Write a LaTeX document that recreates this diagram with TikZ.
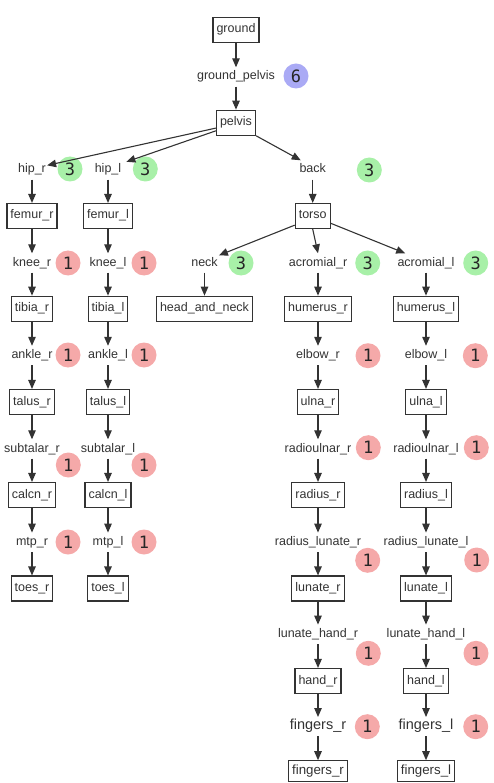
\documentclass[tikz,border=0pt]{standalone}
\usepackage{fontspec}
\setmainfont{Liberation Sans}
\newfontfamily\badgefont{DejaVu Sans Mono}
\usetikzlibrary{arrows.meta}
\definecolor{ink}{HTML}{333333}
\definecolor{badgegreen}{HTML}{A8F0A8}
\definecolor{badgered}{HTML}{F5A9A9}
\definecolor{badgeblue}{HTML}{AAAAF5}
\tikzset{
  body/.style={draw=ink, line width=1.1pt, inner xsep=3.5pt, inner ysep=0pt,
    minimum height=25pt, text height=9pt, text depth=3pt,
    font=\fontsize{12.5}{15}\selectfont, text=ink},
  joint/.style={inner xsep=1pt, inner ysep=3.5pt, text height=9pt, text depth=3pt,
    font=\fontsize{12.5}{15}\selectfont, text=ink},
  badge/.style={circle, inner sep=0pt, minimum size=25pt,
    font=\badgefont\fontsize{17}{17}\selectfont, text=black!85},
  dof1/.style={badge, fill=badgered},
  dof3/.style={badge, fill=badgegreen},
  dof6/.style={badge, fill=badgeblue},
  link/.style={draw=ink, line width=1.1pt, -{Triangle[length=9pt,width=7.5pt]}}
}
\begin{document}
\begin{tikzpicture}[x=1pt, y=-1pt]
\useasboundingbox (0,0) rectangle (493,783);

% trunk
\node[body]  (ground)  at (236,30)    {ground};
\node[joint] (gp)      at (236,77)    {ground\_pelvis};
\node[body]  (pelvis)  at (236,122.7) {pelvis};

% right leg
\node[joint] (hipr)    at (32,170)   {hip\_r};
\node[body]  (femurr)  at (32,216)   {femur\_r};
\node[joint] (kneer)   at (32,263)   {knee\_r};
\node[body]  (tibiar)  at (32,308.7) {tibia\_r};
\node[joint] (ankler)  at (32,355.5) {ankle\_r};
\node[body]  (talusr)  at (32,402)   {talus\_r};
\node[joint] (subr)    at (32,449)   {subtalar\_r};
\node[body]  (calcnr)  at (32,495)   {calcn\_r};
\node[joint] (mtpr)    at (32,542.3) {mtp\_r};
\node[body]  (toesr)   at (32,588.5) {toes\_r};

% left leg
\node[joint] (hipl)    at (108,170)   {hip\_l};
\node[body]  (femurl)  at (108,216)   {femur\_l};
\node[joint] (kneel)   at (108,263)   {knee\_l};
\node[body]  (tibial)  at (108,308.7) {tibia\_l};
\node[joint] (anklel)  at (108,355.5) {ankle\_l};
\node[body]  (talusl)  at (108,402)   {talus\_l};
\node[joint] (subl)    at (108,449)   {subtalar\_l};
\node[body]  (calcnl)  at (108,495)   {calcn\_l};
\node[joint] (mtpl)    at (108,542.3) {mtp\_l};
\node[body]  (toesl)   at (108,588.5) {toes\_l};

% spine and head
\node[joint] (back)    at (312.7,170) {back};
\node[body]  (torso)   at (312.7,216) {torso};
\node[joint] (neck)    at (204.5,263) {neck};
\node[body]  (head)    at (204.5,308.7) {head\_and\_neck};

% right arm
\node[joint] (acrr)    at (318,263)   {acromial\_r};
\node[body]  (humr)    at (318,308.7) {humerus\_r};
\node[joint] (elbr)    at (318,355.5) {elbow\_r};
\node[body]  (ulnar)   at (318,402)   {ulna\_r};
\node[joint] (rur)     at (318,449)   {radioulnar\_r};
\node[body]  (radr)    at (318,495)   {radius\_r};
\node[joint] (rlr)     at (318,542.3) {radius\_lunate\_r};
\node[body]  (lunr)    at (318,588.5) {lunate\_r};
\node[joint] (lhr)     at (318,634.3) {lunate\_hand\_r};
\node[body]  (handr)   at (318,681)   {hand\_r};
\node[joint, font=\fontsize{14.5}{17}\selectfont] (fjr) at (318,726.7) {fingers\_r};
\node[body, minimum height=20.5pt, font=\fontsize{13.3}{16}\selectfont] (fingr) at (318,771) {fingers\_r};

% left arm
\node[joint] (acrl)    at (426,263)   {acromial\_l};
\node[body]  (huml)    at (426,308.7) {humerus\_l};
\node[joint] (elbl)    at (426,355.5) {elbow\_l};
\node[body]  (ulnal)   at (426,402)   {ulna\_l};
\node[joint] (rul)     at (426,449)   {radioulnar\_l};
\node[body]  (radl)    at (426,495)   {radius\_l};
\node[joint] (rll)     at (426,542.3) {radius\_lunate\_l};
\node[body]  (lunl)    at (426,588.5) {lunate\_l};
\node[joint] (lhl)     at (426,634.3) {lunate\_hand\_l};
\node[body]  (handl)   at (426,681)   {hand\_l};
\node[joint, font=\fontsize{14.5}{17}\selectfont] (fjl) at (426,726.7) {fingers\_l};
\node[body, minimum height=20.5pt, font=\fontsize{13.3}{16}\selectfont] (fingl) at (426,771) {fingers\_l};

% degree-of-freedom counts
\node[dof6] (c-gp)   at (296,76)      {6};
\node[dof3] (c-hipr) at (70,169)      {3};
\node[dof3] (c-hipl) at (145.3,169)   {3};
\node[dof3] (c-back) at (369.3,170)   {3};
\node[dof1] (c-kner) at (68,263)      {1};
\node[dof1] (c-knel) at (144,263)     {1};
\node[dof3] (c-neck) at (241,263)     {3};
\node[dof3] (c-acrr) at (367.7,263)   {3};
\node[dof3] (c-acrl) at (475.7,263)   {3};
\node[dof1] (c-ankr) at (68,355)      {1};
\node[dof1] (c-ankl) at (144,355)     {1};
\node[dof1] (c-elbr) at (368,355.7)   {1};
\node[dof1] (c-elbl) at (475.3,355.7) {1};
\node[dof1] (c-subr) at (68.3,465)    {1};
\node[dof1] (c-subl) at (144,465)     {1};
\node[dof1] (c-rur)  at (368.3,447.7) {1};
\node[dof1] (c-rul)  at (476.3,447.7) {1};
\node[dof1] (c-mtpr) at (68,542)      {1};
\node[dof1] (c-mtpl) at (144,542)     {1};
\node[dof1] (c-rlr)  at (367.7,560.3) {1};
\node[dof1] (c-rll)  at (476.7,560)   {1};
\node[dof1] (c-lhr)  at (368.3,653.3) {1};
\node[dof1] (c-lhl)  at (476,653.3)   {1};
\node[dof1] (c-fr)   at (367.3,726.7) {1};
\node[dof1] (c-fl)   at (475.7,726.7) {1};

% branching connectors
\draw[link] (pelvis.195) -- (hipr.17);
\draw[link] (pelvis.202) -- ([shift={(4,1.5)}]hipl.north east);
\draw[link] (pelvis.south east) -- (back.141);
\draw[link] (torso.207) -- (neck.28);
\draw[link] (torso.south) -- (acrr.north);
\draw[link] (torso.338) -- (acrl.155);

% straight chains
\foreach \a/\b in {ground/gp, gp/pelvis,
  hipr/femurr, femurr/kneer, kneer/tibiar, tibiar/ankler, ankler/talusr,
  talusr/subr, subr/calcnr, calcnr/mtpr, mtpr/toesr,
  hipl/femurl, femurl/kneel, kneel/tibial, tibial/anklel, anklel/talusl,
  talusl/subl, subl/calcnl, calcnl/mtpl, mtpl/toesl,
  back/torso, neck/head,
  acrr/humr, humr/elbr, elbr/ulnar, ulnar/rur, rur/radr, radr/rlr, rlr/lunr,
  lunr/lhr, lhr/handr, handr/fjr, fjr/fingr,
  acrl/huml, huml/elbl, elbl/ulnal, ulnal/rul, rul/radl, radl/rll, rll/lunl,
  lunl/lhl, lhl/handl, handl/fjl, fjl/fingl}
  \draw[link] (\a) -- (\b);
\end{tikzpicture}
\end{document}
